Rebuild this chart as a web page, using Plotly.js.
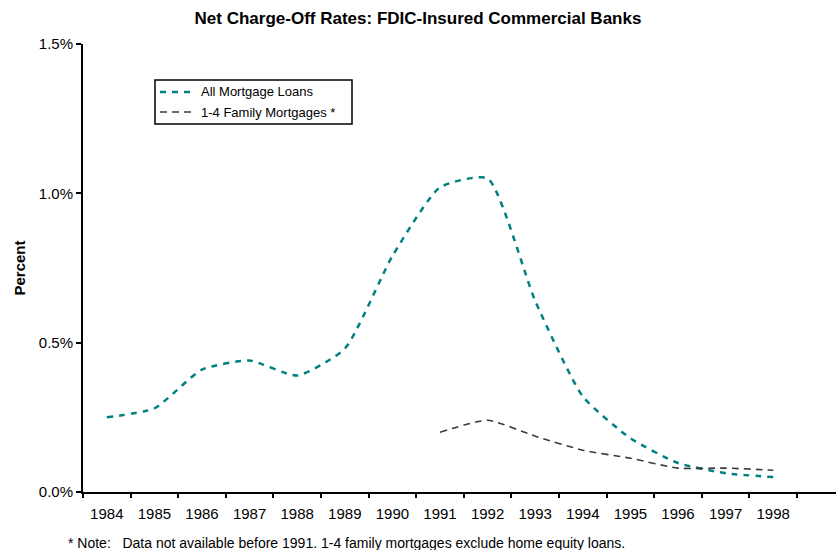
<!DOCTYPE html>
<html>
<head>
<meta charset="utf-8">
<script src="https://cdn.plot.ly/plotly-3.0.1.min.js"></script>
<style>html,body{margin:0;padding:0;background:#fff;}#chart{width:836px;height:550px;}</style>
</head>
<body>
<div id="chart"></div>
<script>
const years = [1984,1985,1986,1987,1988,1989,1990,1991,1992,1993,1994,1995,1996,1997,1998];
const allMortgage = [0.25,0.28,0.41,0.44,0.39,0.48,0.79,1.02,1.05,0.64,0.32,0.18,0.097,0.063,0.05];
const familyYears = [1991,1992,1993,1994,1995,1996,1997,1998];
const familyMortgage = [0.20,0.24,0.187,0.14,0.113,0.08,0.08,0.073];
const yTickVals = [0,0.5,1.0,1.5];
const yTickText = ["0.0%","0.5%","1.0%","1.5%"];
const seriesNames = ["All Mortgage Loans","1-4 Family Mortgages *"];
const boundaries = years.map(y => y - 0.5).concat([1998.5,1999.5]);

const font = "Liberation Sans, Arial, sans-serif";
const teal = "#008080", dark = "#3a3a3a";
const tealDash = "6px,6px", darkDash = "7px,5px";
const traces = [
  {x: years, y: allMortgage, type: "scatter", mode: "lines", name: seriesNames[0],
   line: {color: teal, width: 2.5, dash: tealDash, shape: "spline", smoothing: 0.55}},
  {x: familyYears, y: familyMortgage, type: "scatter", mode: "lines", name: seriesNames[1],
   line: {color: dark, width: 1.6, dash: darkDash, shape: "spline", smoothing: 0.55}},
  {x: [1990], y: [-1], xaxis: "x2", yaxis: "y", showlegend: false, hoverinfo: "skip", mode: "markers"}
];
const W = 753, H = 448, L = 83, T = 44;
const px = v => (v - L) / W;
const py = v => (T + H - v) / H;
const xr = [1983.5, 1983.5 + W/47.6];
const layout = {
  width: 836, height: 550,
  margin: {l: L, r: 0, t: T, b: 58},
  paper_bgcolor: "#fff", plot_bgcolor: "#fff",
  font: {family: font, color: "#000", size: 15},
  title: {text: "<b>Net Charge-Off Rates: FDIC-Insured Commercial Banks</b>", x: 0.5, xanchor: "center", y: 0.967, yanchor: "middle", font: {size: 17, family: font}},
  xaxis: {range: xr, tickvals: years, ticktext: years.map(String), ticks: "outside", ticklen: 7, tickcolor: "rgba(0,0,0,0)",
          showgrid: false, zeroline: false, showline: true, linecolor: "#000", linewidth: 2, tickfont: {size: 15}},
  xaxis2: {range: xr, overlaying: "x", tickvals: boundaries, ticks: "outside", ticklen: 5, tickwidth: 2, tickcolor: "#000",
           showticklabels: false, showgrid: false, zeroline: false, showline: false, side: "bottom", anchor: "y"},
  yaxis: {range: [0, 1.5], tickvals: yTickVals, ticktext: yTickText, ticks: "outside", ticklen: 5, tickwidth: 2, tickcolor: "#000",
          showgrid: false, zeroline: false, showline: true, linecolor: "#000", linewidth: 2, tickfont: {size: 15},
          title: {text: "<b>Percent</b>", font: {size: 15}, standoff: 10}},
  showlegend: false,
  shapes: [
    {type: "rect", xref: "paper", yref: "paper", x0: px(155), x1: px(352), y0: py(80), y1: py(124), line: {color: "#000", width: 1.5}, fillcolor: "#fff", layer: "below"},
    {type: "line", xref: "paper", yref: "paper", x0: px(160), x1: px(195), y0: py(92), y1: py(92), line: {color: teal, width: 2.5, dash: tealDash}},
    {type: "line", xref: "paper", yref: "paper", x0: px(160), x1: px(195), y0: py(112), y1: py(112), line: {color: dark, width: 1.6, dash: darkDash}}
  ],
  annotations: [
    {text: seriesNames[0], xref: "paper", yref: "paper", x: px(199), y: py(92), xanchor: "left", yanchor: "middle", showarrow: false, font: {size: 13}},
    {text: seriesNames[1], xref: "paper", yref: "paper", x: px(199), y: py(112), xanchor: "left", yanchor: "middle", showarrow: false, font: {size: 13}},
    {text: "* Note:   Data not available before 1991. 1-4 family mortgages exclude home equity loans.",
     xref: "paper", yref: "paper", x: px(66), y: py(543), xanchor: "left", yanchor: "middle", showarrow: false, font: {size: 14}}
  ]
};
Plotly.newPlot("chart", traces, layout, {displayModeBar: false, staticPlot: true});
</script>
</body>
</html>
